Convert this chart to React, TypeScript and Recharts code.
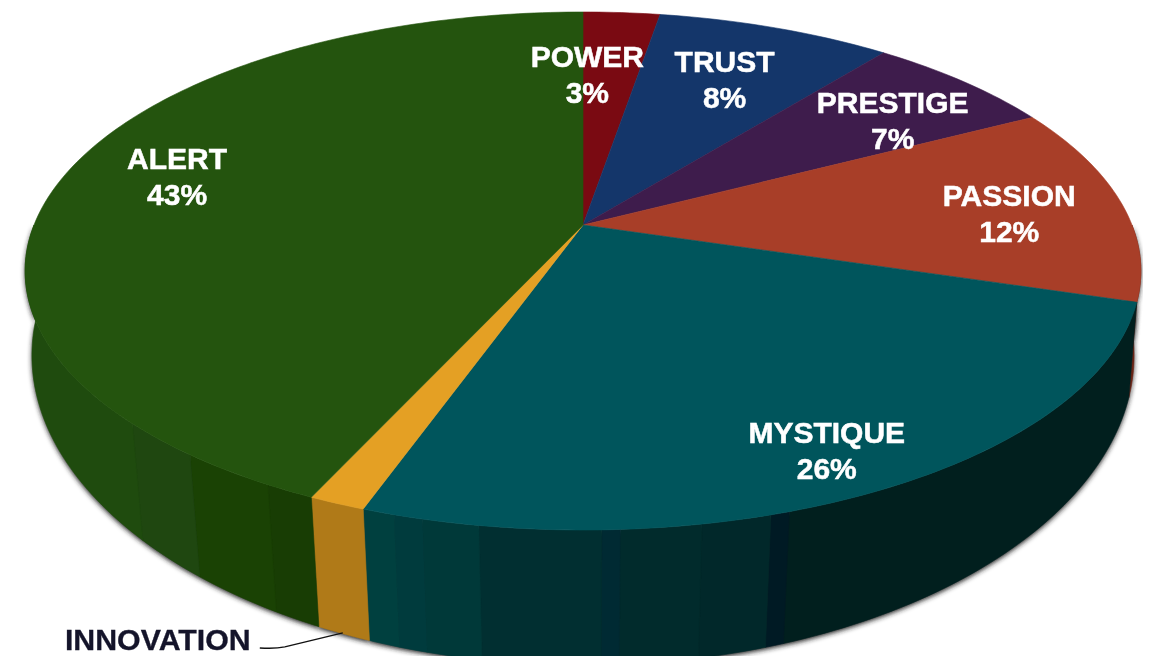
import { PieChart, Pie } from 'recharts';

// slice names, clockwise from 12 o'clock
const names = ['POWER', 'TRUST', 'PRESTIGE', 'PASSION', 'MYSTIQUE', 'INNOVATION', 'ALERT'];
// shares, they round to the printed percentages
const shares = [2.64, 8.08, 6.6, 12.4, 25.7, 1.4, 43.2];
const topColors = ['#7A0A12', '#14366A', '#3E1C4C', '#A83E28', '#00555C', '#E4A024', '#24540E'];

const tableData = names.map((name, i) => ({ name, value: shares[i], fill: topColors[i] }));

// rim facets: [degrees clockwise from top where the facet ends, colour]
const wallBands: Record<string, [number, string][]> = {
  PASSION: [[110, '#6A2415']],
  MYSTIQUE: [
    [161.8, '#011F1E'],
    [163.5, '#001A24'],
    [169.7, '#01282A'],
    [176.8, '#012B2C'],
    [178.4, '#002A33'],
    [189, '#012F31'],
    [194, '#003939'],
    [196.6, '#003B3D'],
    [202, '#00403F'],
  ],
  INNOVATION: [[206, '#B07A18']],
  ALERT: [
    [209, '#183D04'],
    [218, '#1A4204'],
    [226, '#1F4710'],
    [270, '#1F4B0E'],
  ],
};

// where each label sits, relative to the slice's mid point at 70% of the radius
const labelNudge: Record<string, [number, number]> = {
  POWER: [-24, 5],
  TRUST: [1, -2],
  PRESTIGE: [35, -1],
  PASSION: [48, 4],
  MYSTIQUE: [49, 49],
  ALERT: [-40, -13],
};

// perspective of the tilted disc
const TILT = -0.1776;
const topRim = (deg: number, cx: number, cy: number, r = 1) => {
  const a = (deg * Math.PI) / 180;
  const u = r * Math.sin(a);
  const v = -r * Math.cos(a);
  const d = 1 + TILT * v;
  return [cx + (549 * u) / d, (210.87 * v + cy) / d];
};
const lowRim = (deg: number, cx: number) => {
  const a = (deg * Math.PI) / 180;
  const u = Math.sin(a);
  const v = -Math.cos(a);
  return [cx + (544 * u) / (1 - 0.16 * v), (240 * v + 307) / (1 + TILT * v)];
};

const arc = (from: number, to: number, rim: (deg: number) => number[]) => {
  const pts: string[] = [];
  const steps = Math.max(1, Math.ceil(Math.abs(to - from)));
  for (let i = 0; i <= steps; i++) {
    const p = rim(from + ((to - from) * i) / steps);
    pts.push(`${p[0].toFixed(2)} ${p[1].toFixed(2)}`);
  }
  return pts;
};

const wallPath = (from: number, to: number, cx: number, cy: number) => {
  const up = arc(from, to, (d) => topRim(d, cx, cy));
  const down = arc(to, from, (d) => lowRim(d, cx));
  return `M${up.join('L')}L${down.join('L')}Z`;
};

const TopSlice = (props: any) => {
  const { cx, cy, startAngle, endAngle, payload } = props;
  const color = payload?.fill ?? props.fill;
  const pts = arc(90 - startAngle, 90 - endAngle, (d) => topRim(d, cx, cy));
  return <path d={`M${cx} ${cy}L${pts.join('L')}Z`} fill={color} stroke={color} strokeWidth={0.6} />;
};

// only the front half of the rim is ever seen
const wallRange = (props: any) => {
  const from = Math.max(90 - props.startAngle, 90);
  const to = Math.min(90 - props.endAngle, 270);
  return [from, to];
};

const WallSlice = (props: any) => {
  const { cx, cy, payload } = props;
  const [from, to] = wallRange(props);
  const bands = wallBands[payload?.name ?? props.name];
  if (!bands || to <= from) return <g />;
  let last = from;
  const parts = bands.map(([end, color]) => {
    const stop = Math.min(end, to);
    if (stop <= last) return null;
    const d = wallPath(last, stop, cx, cy);
    last = stop;
    return <path key={end} d={d} fill={color} stroke={color} strokeWidth={0.6} />;
  });
  return <g>{parts}</g>;
};

const ShadowSlice = (props: any) => {
  const { cx, cy } = props;
  const [from, to] = wallRange(props);
  if (to <= from) return <g />;
  return <path d={wallPath(from, to, cx, cy)} fill="#222" filter="url(#wallShadow)" transform="translate(0 2)" />;
};

const SliceLabel = (props: any) => {
  const { cx, cy, midAngle, name, value } = props;
  if (name === 'INNOVATION') {
    const [ex, ey] = lowRim(90 - midAngle, cx);
    return (
      <g>
        <path d={`M${ex - 1} ${ey - 1}L${ex - 59} ${ey + 13}Q${ex - 69} ${ey + 15} ${ex - 84} ${ey + 14}`} fill="none" stroke="#111" strokeWidth={1.4} />
        <text x={ex - 186} y={ey + 16} textAnchor="middle" fontFamily="Liberation Sans" fontWeight="bold" fontSize={30.3} fill="#14142A" stroke="#14142A" strokeWidth={0.3}>
          {name}
        </text>
      </g>
    );
  }
  const [px, py] = topRim(90 - midAngle, cx, cy, 0.7);
  const [dx, dy] = labelNudge[name];
  const x = px + dx;
  const y = py + dy;
  return (
    <text x={x} textAnchor="middle" fontFamily="Liberation Sans" fontWeight="bold" fontSize={30} fill="#fff" stroke="#fff" strokeWidth={0.5}>
      <tspan x={x} y={y - 7}>{name}</tspan>
      <tspan x={x} y={y + 29}>{Math.round(value)}%</tspan>
    </text>
  );
};

const App = () => {
  return (
    <div style={{ position: 'fixed', left: 0, top: 0, width: 1151, height: 656, background: '#fff', overflow: 'hidden', filter: 'blur(0.6px)' }}>
      <PieChart width={1151} height={656} margin={{ top: 0, right: 0, bottom: 0, left: 0 }}>
        <defs>
          <filter id="wallShadow" x="-10%" y="-10%" width="120%" height="120%">
            <feGaussianBlur stdDeviation="2.5" />
          </filter>
        </defs>
        {[ShadowSlice, WallSlice, TopSlice].map((Slice, i) => (
          <Pie
            key={i}
            data={tableData}
            dataKey="value"
            nameKey="name"
            cx={583}
            cy={225}
            outerRadius={200}
            startAngle={90}
            endAngle={-270}
            stroke="none"
            shape={Slice}
            label={i === 2 ? SliceLabel : false}
            labelLine={false}
            isAnimationActive={false}
          />
        ))}
      </PieChart>
    </div>
  );
};

export default App;
